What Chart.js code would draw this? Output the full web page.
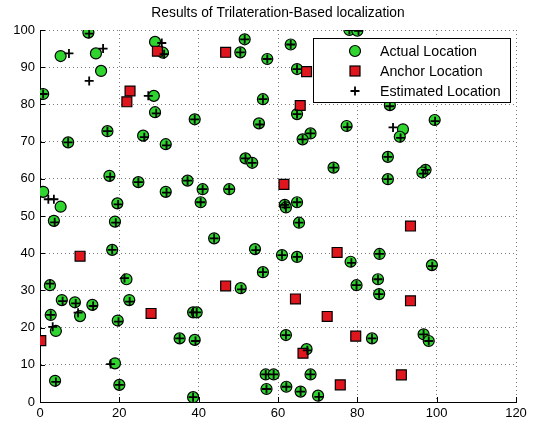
<!DOCTYPE html>
<html>
<head>
<meta charset="utf-8">
<script src="https://cdn.jsdelivr.net/npm/chart.js@4"></script>
<style>
  html, body { margin: 0; padding: 0; background: #fff; }
  #wrap { width: 539px; height: 428px; }
</style>
</head>
<body>
<div id="wrap"><canvas id="chart" width="539" height="428"></canvas></div>
<script>
// valores
const actualX = [0.8, 5.2, 12.2, 14.1, 15.4, 17, 7.1, 26, 31.7, 39, 29, 31, 28.7, 29,
  51.6, 50.5, 57.3, 63.2, 64.8, 56.2, 64.8, 55.2, 68.2, 66.2, 78, 80, 88.2, 99.5, 91.5, 90.7,
  87.7, 77.3, 74, 97.2, 96.4, 87.7, 78.3, 85.6, 98.8, 85.2, 79.8, 85.5, 83.7, 96.7, 98,
  17.5, 24.8, 31.7, 37.2, 41, 47.7, 40.5, 0.8, 5.2, 19.5, 3.5, 18.9, 18.2, 21.8, 2.5,
  51.8, 53.5, 61.7, 62, 64.8, 65.3, 43.9, 54.2, 61, 64.8, 56.2, 50.6,
  5.5, 8.8, 13.2, 2.7, 10.1, 22.5, 19.6, 4, 18.9, 3.8, 20, 35.2, 39, 38.6, 39.5, 38.6,
  62, 67.2, 56.9, 58.9, 68.2, 57.1, 62.1, 65.7, 70.1];
const actualY = [82.8, 93, 99.3, 93.7, 89, 72.8, 69.8, 71.6, 69.3, 76, 96.8, 93.9, 82.3, 77.9,
  97.5, 94, 92.2, 96.1, 89.5, 81.4, 77.4, 74.9, 72.2, 70.6, 100, 99.8, 79.8, 75.8, 73.3, 71.3,
  65.9, 74.2, 63, 62.4, 61.7, 59.9, 37.7, 39.8, 36.8, 33, 31.4, 29, 17.1, 18.2, 16.4,
  60.8, 59.1, 56.5, 59.5, 57.2, 57.2, 53.7, 56.5, 52.5, 53.4, 48.7, 48.5, 40.9, 33, 31.4,
  65.5, 64.3, 53, 52.3, 53.7, 48.2, 44, 41.1, 39.5, 39, 34.9, 30.6,
  27.4, 26.8, 26.1, 23.4, 23.1, 27.4, 21.9, 19.1, 10.4, 5.7, 4.6, 17.1, 16.7, 24.1, 24.1, 1.3,
  18, 14.2, 7.4, 7.4, 7.4, 3.5, 4.1, 2.8, 1.7];

const anchorX = [29.6, 22.7, 21.9, 46.8, 67.2, 65.6, 10.1, 61.5, 74.9, 93.4,
  46.8, 64.4, 72.4, 93.4, 28, 0.2, 66.3, 79.6, 91.1, 75.7];
const anchorY = [94.3, 83.6, 80.7, 94, 88.8, 79.7, 39.2, 58.5, 40.2, 47.3,
  31.2, 27.7, 23, 27.2, 23.8, 16.5, 13.1, 17.7, 7.3, 4.6];

const estX = [0.8, 7.3, 12.4, 15.9, 12.4, 17, 7.1, 26.3, 31.9, 39, 30.7, 31.3, 27.3, 29.3,
  51.6, 50.5, 57.3, 63.2, 64.8, 56.2, 64.8, 55.4, 68.2, 66.2, 78, 80.3, 88.2, 99.6, 89, 90.9,
  87.7, 77.5, 74, 97.2, 96.6, 87.7, 78.5, 85.6, 98.9, 85.2, 79.8, 85.5, 83.7, 96.7, 98,
  17.7, 24.8, 31.9, 37.2, 41, 47.7, 40.5, 2.1, 3.5, 19.7, 3.7, 19.1, 18.2, 21.3, 2.5,
  51.8, 53.5, 61.7, 62, 64.8, 65.3, 43.9, 54.4, 61, 64.8, 56.2, 50.8,
  5.7, 9, 13.4, 2.7, 9.6, 22.6, 19.8, 3.2, 17.8, 4, 20, 35.2, 39.2, 38.6, 39.5, 38.6,
  62, 67.4, 56.9, 58.9, 68.2, 57.1, 62.1, 65.7, 70.3];
const estY = [82.8, 93.7, 99, 95, 86.3, 72.8, 69.8, 71.2, 69, 76, 96.5, 93.5, 82.3, 77.6,
  97.5, 94, 92.2, 96.1, 89.5, 81.4, 77.4, 74.6, 72.2, 70.6, 100, 99.8, 79.5, 75.5, 73.8, 71,
  65.9, 73.9, 63, 62.4, 61.4, 59.9, 37.4, 39.8, 36.5, 33, 31.4, 29, 17.1, 18.2, 16.4,
  60.5, 59.1, 56.3, 59.5, 57.2, 57.2, 53.7, 54.5, 54.5, 53.1, 48.3, 48.2, 40.9, 33.3, 31.8,
  65.5, 64.3, 53, 52.3, 53.7, 48.2, 44, 40.8, 39.5, 39, 34.9, 30.3,
  27.1, 26.5, 25.8, 23.4, 24, 27, 21.6, 20.2, 10.2, 5.4, 4.6, 17.1, 16.4, 24.1, 24.1, 1.3,
  18, 13.9, 7.4, 7.4, 7.4, 3.5, 4.1, 2.8, 1.4];

const xTicks = [0, 20, 40, 60, 80, 100, 120];
const yTicks = [0, 10, 20, 30, 40, 50, 60, 70, 80, 90, 100];
const titulo = 'Results of Trilateration-Based localization';
const leyenda = ['Actual Location', 'Anchor Location', 'Estimated Location'];

const verde = '#2fd42f';
const rojo = '#e0161e';
const fuente = '"Liberation Sans", Arial, sans-serif';

function puntos(xs, ys) {
  return xs.map((x, i) => ({ x: x, y: ys[i] }));
}

// titulo centrado sobre el area del grafico + marcas de eje hacia adentro
const extras = {
  id: 'extras',
  afterDraw(chart) {
    const ctx = chart.ctx;
    const a = chart.chartArea;
    const sx = chart.scales.x, sy = chart.scales.y;
    ctx.save();
    ctx.strokeStyle = '#000';
    ctx.lineWidth = 1;
    ctx.beginPath();
    yTicks.forEach(v => {
      const py = Math.round(sy.getPixelForValue(v)) + 0.5;
      ctx.moveTo(a.left, py); ctx.lineTo(a.left + 5, py);
    });
    xTicks.forEach(v => {
      const px = Math.round(sx.getPixelForValue(v)) + 0.5;
      ctx.moveTo(px, a.bottom); ctx.lineTo(px, a.bottom - 5);
    });
    ctx.stroke();

    ctx.fillStyle = '#000';
    ctx.font = '13.8px ' + fuente;
    ctx.textAlign = 'center';
    ctx.textBaseline = 'middle';
    ctx.fillText(titulo, (a.left + a.right) / 2, 13);

    // leyenda dentro del grafico
    const bx = 313, by = 38, bw = 197, bh = 64;
    ctx.fillStyle = '#fff';
    ctx.fillRect(bx, by, bw, bh);
    ctx.strokeRect(bx + 0.5, by + 0.5, bw, bh);
    const filas = [51, 71, 91];
    ctx.textAlign = 'left';
    ctx.font = '14.2px ' + fuente;
    leyenda.forEach((txt, i) => {
      const y = filas[i];
      ctx.lineWidth = 1.2;
      ctx.strokeStyle = '#000';
      if (i === 0) {
        ctx.beginPath(); ctx.arc(355, y, 5.5, 0, Math.PI * 2);
        ctx.fillStyle = verde; ctx.fill(); ctx.stroke();
      } else if (i === 1) {
        ctx.fillStyle = rojo; ctx.fillRect(350, y - 5, 10, 10);
        ctx.strokeRect(350, y - 5, 10, 10);
      } else {
        ctx.lineWidth = 1.8;
        ctx.beginPath();
        ctx.moveTo(355, y - 4.5); ctx.lineTo(355, y + 4.5);
        ctx.moveTo(350.5, y); ctx.lineTo(359.5, y);
        ctx.stroke();
      }
      ctx.fillStyle = '#000';
      ctx.fillText(txt, 380, y + 1);
    });
    ctx.restore();
  }
};

new Chart(document.getElementById('chart'), {
  type: 'scatter',
  data: {
    datasets: [
      {
        label: leyenda[0],
        data: puntos(actualX, actualY),
        pointStyle: 'circle',
        pointRadius: 5.5,
        backgroundColor: verde,
        borderColor: '#000',
        borderWidth: 1.2,
        order: 3
      },
      {
        label: leyenda[1],
        data: puntos(anchorX, anchorY),
        pointStyle: 'rect',
        pointRadius: 7,
        backgroundColor: rojo,
        borderColor: '#000',
        borderWidth: 1.2,
        order: 2
      },
      {
        label: leyenda[2],
        data: puntos(estX, estY),
        pointStyle: 'cross',
        pointRadius: 4.5,
        borderColor: '#000',
        borderWidth: 1.8,
        order: 1
      }
    ]
  },
  options: {
    responsive: false,
    animation: false,
    events: [],
    layout: { padding: { top: 30, right: 23, left: 0, bottom: 0 } },
    plugins: {
      legend: { display: false },
      title: { display: false },
      tooltip: { enabled: false }
    },
    scales: {
      x: {
        type: 'linear',
        min: 0, max: 120,
        afterBuildTicks: s => { s.ticks = xTicks.map(v => ({ value: v })); },
        afterFit: s => { s.height = 26; },
        ticks: { color: '#000', padding: 4, font: { family: fuente, size: 13 } },
        grid: { color: '#7a7a7a', drawTicks: false },
        border: { display: true, color: '#000', width: 1, dash: [1, 3] }
      },
      y: {
        type: 'linear',
        min: 0, max: 100,
        afterBuildTicks: s => { s.ticks = yTicks.map(v => ({ value: v })); },
        afterFit: s => { s.width = 40; },
        ticks: { color: '#000', padding: 5, font: { family: fuente, size: 13 } },
        grid: { color: '#7a7a7a', drawTicks: false },
        border: { display: true, color: '#000', width: 1, dash: [1, 3] }
      }
    }
  },
  plugins: [extras]
});
</script>
</body>
</html>
